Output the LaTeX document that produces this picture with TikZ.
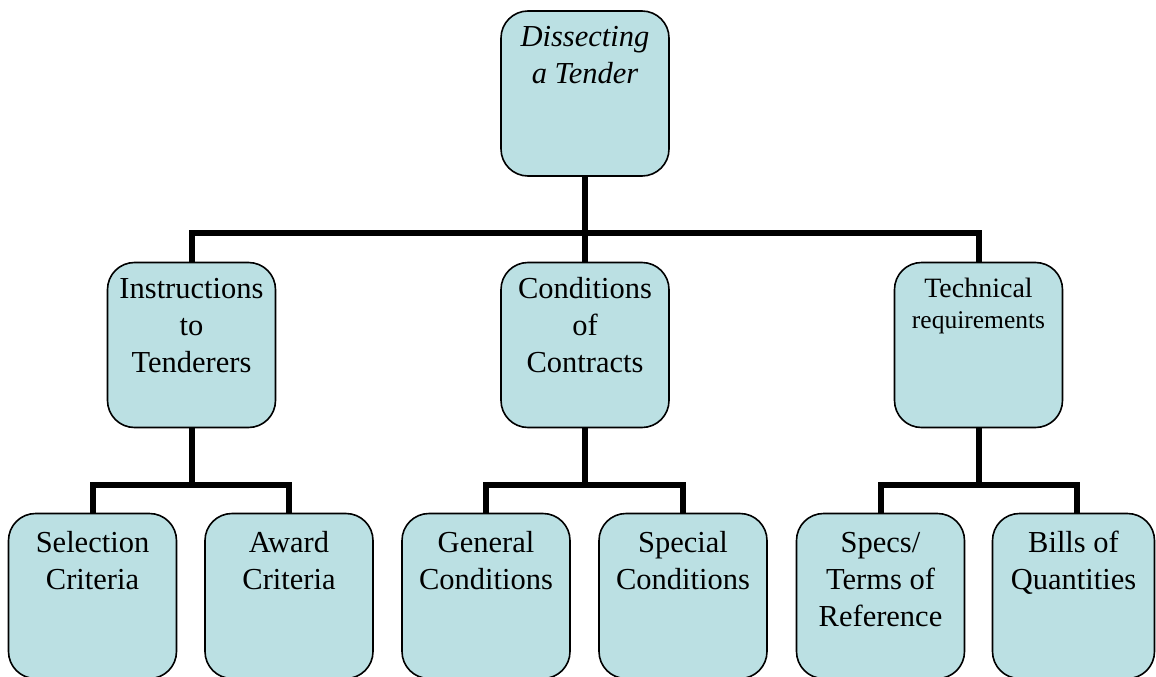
\documentclass[tikz,border=0pt]{standalone}
\usepackage{fontspec}
\setmainfont{Liberation Serif}
\definecolor{boxfill}{RGB}{187,224,227}
\tikzset{
  box/.style={draw=black, line width=1.6pt, fill=boxfill, rounded corners=27pt,
    minimum width=168pt, minimum height=165pt, inner sep=0pt},
  conn/.style={draw=black, line width=6pt, line join=miter},
  txt/.style={anchor=base, inner sep=0pt, font=\fontsize{30.5}{37}\selectfont},
}
\newcommand{\lines}[1]{\begin{tabular}[t]{@{}c@{}}#1\end{tabular}}
\begin{document}
\begin{tikzpicture}[x=1pt, y=-1pt]
\clip (0,0) rectangle (1156,677);
\fill[white] (0,0) rectangle (1156,677);
% boxes
\node[box] (top) at (585,93.5) {};
\node[box] (instr) at (191.5,345) {};
\node[box] (cond) at (585,345) {};
\node[box] (tech) at (978.5,345) {};
\node[box] (sel) at (92.5,596) {};
\node[box] (award) at (289,596) {};
\node[box] (gen) at (486,596) {};
\node[box] (spec) at (683,596) {};
\node[box] (specs) at (880.5,596) {};
\node[box, minimum width=162pt] (bills) at (1073.5,596) {};
% bar levels
\coordinate (bar1) at (585,233);
\coordinate (bar2) at (585,485);
% connectors
\draw[conn] (top.south) -- (cond.north);
\draw[conn] (instr.north) |- (tech.north |- bar1) -- (tech.north);
\draw[conn] (instr.south) -- (instr.south |- bar2);
\draw[conn] (sel.north) |- (award.north |- bar2) -- (award.north);
\draw[conn] (cond.south) -- (cond.south |- bar2);
\draw[conn] (gen.north) |- (spec.north |- bar2) -- (spec.north);
\draw[conn] (tech.south) -- (tech.south |- bar2);
\draw[conn] (specs.north) |- ([xshift=3.5pt]bills.north |- bar2) -- ([xshift=3.5pt]bills.north);
% texts
\node[txt, font=\fontsize{30.5}{36}\selectfont\itshape] (top-t) at (585,47) {\lines{Dissecting\\a Tender}};
\node[txt] (instr-t) at (191.5,298) {\lines{Instructions\\to\\Tenderers}};
\node[txt] (cond-t) at (585,298) {\lines{Conditions\\of\\Contracts}};
\node[txt, font=\fontsize{28}{31}\selectfont] (tech-t) at (978.5,297) {\lines{Technical\\\fontsize{25.5}{31}\selectfont requirements}};
\node[txt] (sel-t) at (92.5,552) {\lines{Selection\\Criteria}};
\node[txt] (award-t) at (289,552) {\lines{Award\\Criteria}};
\node[txt] (gen-t) at (486,552) {\lines{General\\Conditions}};
\node[txt] (spec-t) at (683,552) {\lines{Special\\Conditions}};
\node[txt] (specs-t) at (880.5,552) {\lines{Specs/\\Terms of\\Reference}};
\node[txt] (bills-t) at (1073.5,552) {\lines{Bills of\\Quantities}};
\end{tikzpicture}
\end{document}
